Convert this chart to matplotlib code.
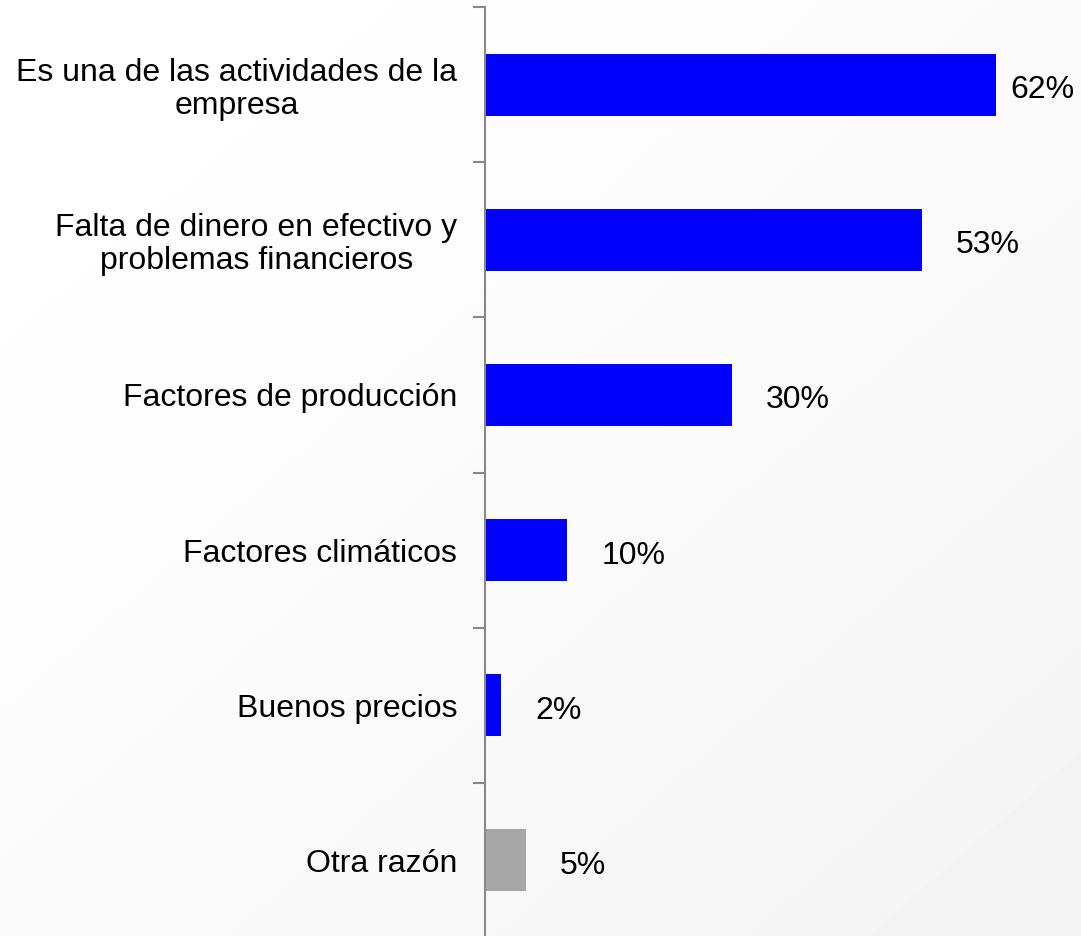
import numpy as np
import matplotlib
matplotlib.use("Agg")
import matplotlib.pyplot as plt

categories = [
    "Es una de las actividades de la\nempresa",
    "Falta de dinero en efectivo y\nproblemas financieros",
    "Factores de producción",
    "Factores climáticos",
    "Buenos precios",
    "Otra razón",
]
values = [62, 53, 30, 10, 2, 5]
colors = ["#0000FF"] * 5 + ["#A6A6A6"]

plt.rcParams["font.family"] = ["Liberation Sans", "DejaVu Sans"]

fig = plt.figure(figsize=(10.81, 9.36), dpi=100)

# faint diagonal gradient background
bg = fig.add_axes([0, 0, 1, 1], zorder=-1)
gx, gy = np.meshgrid(np.linspace(0, 1, 200), np.linspace(0, 1, 200))
g = (gx + gy) / 2
bg.imshow(1 - 0.05 * g ** 1.5, cmap="gray", vmin=0, vmax=1, aspect="auto",
          extent=[0, 1, 1, 0])
bg.axis("off")

ax = fig.add_axes([485 / 1081, -2 / 936, 1 - 485 / 1081, 931 / 936])
ax.patch.set_alpha(0)
y = np.arange(len(categories))
ax.barh(y, values, height=0.4, color=colors)
ax.set_ylim(len(categories) - 0.5, -0.5)
ax.set_xlim(0, 596 / 8.24)

ax.set_yticks(y)
ax.set_yticklabels(categories, fontsize=23, linespacing=1.12)
ax.tick_params(axis="y", which="major", length=0, pad=20)
for lbl in ax.get_yticklabels():
    lbl.set_multialignment("center")
ax.set_yticks(np.arange(-0.5, len(categories) + 0.5), minor=True)
ax.tick_params(axis="y", which="minor", length=9, color="#888888", width=1.5)

for s in ["top", "right", "bottom"]:
    ax.spines[s].set_visible(False)
ax.spines["left"].set_color("#888888")
ax.spines["left"].set_linewidth(1.5)
ax.set_xticks([])

for yi, v in zip(y, values):
    off = 14 if v > 55 else 34
    ax.annotate(f"{v}%", (v, yi), xytext=(off * 0.72, -4), textcoords="offset points",
                va="center", ha="left", fontsize=23)

fig.savefig("out.png", dpi=100)
